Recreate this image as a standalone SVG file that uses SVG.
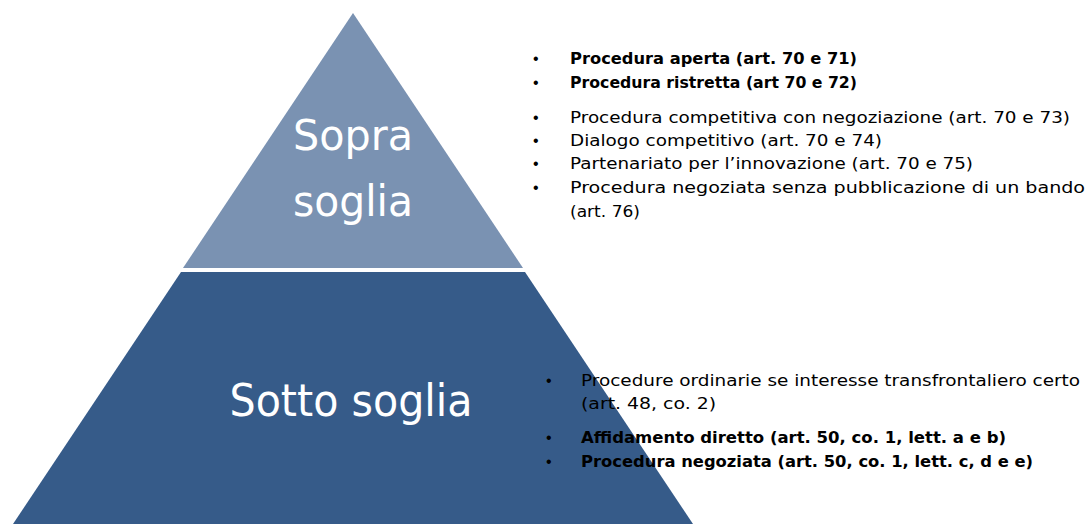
<svg xmlns="http://www.w3.org/2000/svg" width="1088" height="524" viewBox="0 0 1088 524">
<style>
.lbl{font-family:"DejaVu Sans","Liberation Sans",sans-serif;fill:#ffffff;text-anchor:middle;font-weight:normal}
.it{font-family:"DejaVu Sans","Liberation Sans",sans-serif;font-size:16px;fill:#000000}
.b{font-weight:bold}
.bul{font-family:"Liberation Sans",sans-serif;font-size:16px;fill:#000000}
</style>
<rect width="1088" height="524" fill="#ffffff"/>
<g id="top">
<polygon points="353,13 523,268 183,268" fill="#7A92B2"/>
<text class="lbl" x="353" y="150" font-size="42" textLength="120" lengthAdjust="spacingAndGlyphs">Sopra</text>
<text class="lbl" x="353" y="216" font-size="42" textLength="120" lengthAdjust="spacingAndGlyphs">soglia</text>
</g>
<g id="bottom">
<polygon points="181,272 525,272 693,524 13,524" fill="#365B89"/>
<text class="lbl" x="351" y="416" font-size="44" textLength="243" lengthAdjust="spacingAndGlyphs">Sotto soglia</text>
</g>
<g id="list-top">
<text class="bul" x="533" y="64">•</text>
<text class="bul" x="533" y="88">•</text>
<text class="bul" x="533" y="123">•</text>
<text class="bul" x="533" y="146">•</text>
<text class="bul" x="533" y="169">•</text>
<text class="bul" x="533" y="193">•</text>
<text class="it b" x="570" y="64" textLength="287" lengthAdjust="spacingAndGlyphs">Procedura aperta (art. 70 e 71)</text>
<text class="it b" x="570" y="88" textLength="287" lengthAdjust="spacingAndGlyphs">Procedura ristretta (art 70 e 72)</text>
<text class="it" x="570" y="123" textLength="500" lengthAdjust="spacingAndGlyphs">Procedura competitiva con negoziazione (art. 70 e 73)</text>
<text class="it" x="570" y="146" textLength="312" lengthAdjust="spacingAndGlyphs">Dialogo competitivo (art. 70 e 74)</text>
<text class="it" x="570" y="169" textLength="403" lengthAdjust="spacingAndGlyphs">Partenariato per l’innovazione (art. 70 e 75)</text>
<text class="it" x="570" y="193" textLength="515" lengthAdjust="spacingAndGlyphs">Procedura negoziata senza pubblicazione di un bando</text>
<text class="it" x="570" y="217" textLength="70" lengthAdjust="spacingAndGlyphs">(art. 76)</text>
</g>
<g id="list-bottom">
<text class="bul" x="546" y="386">•</text>
<text class="bul" x="546" y="443">•</text>
<text class="bul" x="546" y="467">•</text>
<text class="it" x="581" y="386" textLength="499" lengthAdjust="spacingAndGlyphs">Procedure ordinarie se interesse transfrontaliero certo</text>
<text class="it" x="581" y="409" textLength="135" lengthAdjust="spacingAndGlyphs">(art. 48, co. 2)</text>
<text class="it b" x="581" y="443" textLength="425" lengthAdjust="spacingAndGlyphs">Affidamento diretto (art. 50, co. 1, lett. a e b)</text>
<text class="it b" x="581" y="467" textLength="452" lengthAdjust="spacingAndGlyphs">Procedura negoziata (art. 50, co. 1, lett. c, d e e)</text>
</g>
</svg>
